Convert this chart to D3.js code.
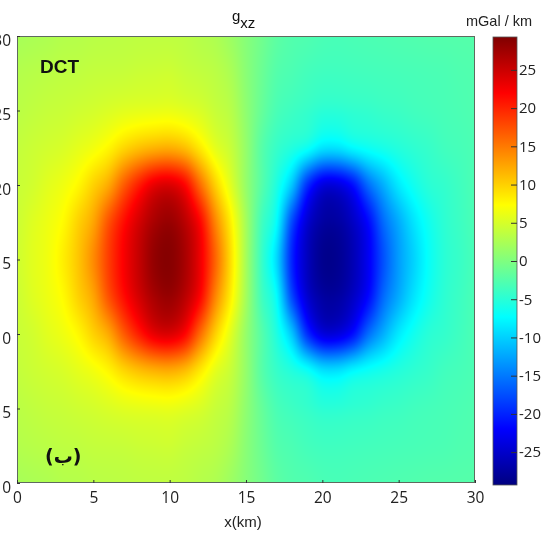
<!DOCTYPE html>
<html>
<head>
<meta charset="utf-8">
<script src="https://cdn.jsdelivr.net/npm/d3@7"></script>
<style>
  body { margin: 0; background: #fff; }
  #chart { position: relative; width: 556px; height: 551px; overflow: hidden; }
  #chart canvas, #chart svg { position: absolute; left: 0; top: 0; }
</style>
</head>
<body>
<div id="chart"></div>
<script>
// grid of g_xz (mGal/km)
const xKm = [0, 1, 2, 3, 4, 5, 6, 7, 8, 9, 10, 11, 12, 13, 14, 15, 16, 17, 18, 19, 20, 21, 22, 23, 24, 25, 26, 27, 28, 29, 30];
const yKm = [0, 2.5, 5, 7.5, 10, 12.5, 15, 17.5, 20, 22.5, 25, 27.5, 30];

// rows named by their distance from the centre line y = 15 km
const rowD15  = [2.3, 2.5, 2.7, 3.0, 3.1, 3.3, 3.4, 3.5, 3.6, 3.65, 3.65, 3.5, 3.1, 2.7, 1.7, 0.4, -0.8, -2.0, -2.6, -2.8, -3.1, -3.2, -3.1, -3.0, -2.9, -2.8, -2.7, -2.6, -2.55, -2.5, -2.45];
const rowD125 = [3.0, 3.2, 3.4, 3.6, 3.7, 3.9, 4.0, 4.1, 4.3, 4.4, 4.5, 4.1, 3.8, 3.4, 2.5, 0.6, -1.1, -2.5, -3.0, -3.45, -3.7, -3.7, -3.6, -3.5, -3.4, -3.3, -3.2, -3.1, -3.0, -2.8, -2.7];
const rowD10  = [3.4, 3.7, 4.0, 4.2, 4.5, 4.8, 5.2, 5.6, 5.85, 6.0, 6.1, 5.7, 5.1, 4.1, 3.2, 0.9, -1.4, -3.1, -3.8, -4.3, -4.9, -4.9, -4.6, -4.4, -4.1, -3.9, -3.6, -3.4, -3.2, -3.0, -2.8];
const rowD75  = [3.9, 4.3, 4.7, 5.1, 5.8, 6.6, 7.8, 9.6, 10.9, 11.7, 12.0, 11.0, 8.5, 5.8, 4.1, 1.2, -2.2, -4.2, -5.4, -6.7, -8.8, -8.9, -7.6, -6.7, -6.0, -5.3, -4.7, -4.2, -3.6, -3.3, -3.0];
const rowD5   = [4.2, 4.7, 5.6, 6.4, 7.7, 9.9, 12.3, 16.7, 20.4, 23.3, 24.0, 21.8, 15.8, 10.0, 5.6, 1.3, -2.3, -5.6, -10.6, -19.2, -23.7, -23.8, -21.2, -15.8, -11.9, -8.5, -6.4, -5.0, -4.4, -3.7, -3.0];
const rowD25  = [4.4, 5.4, 6.3, 7.5, 9.9, 12.5, 17.3, 21.3, 24.5, 27.0, 27.9, 26.0, 21.8, 14.3, 8.2, 2.1, -3.4, -7.3, -17.7, -24.5, -27.3, -27.4, -25.4, -21.7, -15.9, -12.1, -8.8, -6.4, -4.8, -3.9, -3.1];
const rowD0   = [4.6, 5.6, 6.5, 8.2, 10.6, 14.0, 18.5, 22.3, 25.4, 28.2, 28.9, 27.0, 22.9, 16.2, 9.2, 2.2, -3.9, -9.4, -19.9, -25.6, -28.4, -28.3, -26.3, -22.7, -17.4, -13.0, -9.8, -6.9, -5.0, -4.1, -3.2];

// one row per yKm entry, bottom to top
const gz = [rowD15, rowD125, rowD10, rowD75, rowD5, rowD25, rowD0, rowD25, rowD5, rowD75, rowD10, rowD125, rowD15];

const axisTicks = [0, 5, 10, 15, 20, 25, 30];
const barTicks = [-25, -20, -15, -10, -5, 0, 5, 10, 15, 20, 25];
const vMin = -29.3, vMax = 29.3;

// matlab jet
const jetStops = [0, 0.125, 0.375, 0.625, 0.875, 1];
const jetColors = ["#000080", "#0000ff", "#00ffff", "#ffff00", "#ff0000", "#800000"];

const width = 556, height = 551;
const plot = { left: 17, top: 36, right: 475, bottom: 483 };
const bar = { left: 493, right: 517, top: 37, bottom: 485 };

const x = d3.scaleLinear().domain([0, 30]).range([plot.left, plot.right]);
const y = d3.scaleLinear().domain([0, 30]).range([plot.bottom, plot.top]);
const cb = d3.scaleLinear().domain([vMin, vMax]).range([bar.bottom, bar.top]);

const color = d3.scaleLinear()
    .domain(jetStops.map(t => vMin + t * (vMax - vMin)))
    .range(jetColors)
    .clamp(true);

const col = d3.scaleLinear().domain(d3.extent(xKm)).range([0, xKm.length - 1]);
const row = d3.scaleLinear().domain(d3.extent(yKm)).range([0, yKm.length - 1]);

function cr(p0, p1, p2, p3, t) {
    return p1 + 0.5 * t * (p2 - p0 + t * (2 * p0 - 5 * p1 + 4 * p2 - p3 + t * (3 * (p1 - p2) + p3 - p0)));
}

function sample(gx, gy) {
    const nx = xKm.length, ny = yKm.length;
    const i = Math.min(nx - 2, Math.floor(gx)), j = Math.min(ny - 2, Math.floor(gy));
    const fx = gx - i, fy = gy - j;
    const cx = k => Math.max(0, Math.min(nx - 1, k));
    const cy = k => Math.max(0, Math.min(ny - 1, k));
    const r = [];
    for (let m = -1; m <= 2; m++) {
        const g = gz[cy(j + m)];
        r.push(cr(g[cx(i - 1)], g[cx(i)], g[cx(i + 1)], g[cx(i + 2)], fx));
    }
    return cr(r[0], r[1], r[2], r[3], fy);
}

// field image
const pw = plot.right - plot.left, ph = plot.bottom - plot.top;
const canvas = d3.select('#chart').append('canvas')
    .attr('width', pw).attr('height', ph)
    .style('left', plot.left + 'px').style('top', plot.top + 'px');
const ctx = canvas.node().getContext('2d');
const img = ctx.createImageData(pw, ph);
for (let py = 0; py < ph; py++) {
    const gy = row(y.invert(plot.top + py + 0.5));
    for (let px = 0; px < pw; px++) {
        const gx = col(x.invert(plot.left + px + 0.5));
        const c = d3.rgb(color(sample(gx, gy)));
        const o = (py * pw + px) * 4;
        img.data[o] = c.r; img.data[o + 1] = c.g; img.data[o + 2] = c.b; img.data[o + 3] = 255;
    }
}
ctx.putImageData(img, 0, 0);

const svg = d3.select('#chart').append('svg').attr('width', width).attr('height', height);

svg.append('rect')
    .attr('x', plot.left + 0.5).attr('y', plot.top + 0.5)
    .attr('width', pw - 1).attr('height', ph - 1)
    .attr('fill', 'none').attr('stroke', '#5f6a5f');

const tickFont = '"Open Sans", sans-serif';

const xAxis = svg.append('g')
    .attr('transform', `translate(0,${plot.bottom})`)
    .call(d3.axisBottom(x).tickValues(axisTicks).tickSizeInner(-3).tickSizeOuter(0).tickPadding(9));
const yAxis = svg.append('g')
    .attr('transform', `translate(${plot.left},0)`)
    .call(d3.axisLeft(y).tickValues(axisTicks).tickSizeInner(-3).tickSizeOuter(0).tickPadding(6));
[xAxis, yAxis].forEach(a => {
    a.select('.domain').remove();
    a.selectAll('line').attr('stroke', '#333');
    a.selectAll('text').attr('fill', '#222').style('font-family', tickFont).style('font-size', '15.5px');
});
yAxis.selectAll('text').attr('dy', '0.6em');

// title g_xz
const title = svg.append('text')
    .attr('x', 232).attr('y', 20.5)
    .attr('fill', '#111')
    .style('font-family', '"Liberation Sans", Arial, sans-serif')
    .style('font-size', '15px');
title.append('tspan').text('g');
title.append('tspan').attr('dy', 7.5).text('xz');

svg.append('text')
    .attr('x', 243).attr('y', 527)
    .attr('text-anchor', 'middle')
    .attr('fill', '#222')
    .style('font-family', '"Liberation Sans", Arial, sans-serif')
    .style('font-size', '15px')
    .text('x(km)');

svg.append('text')
    .attr('x', 40).attr('y', 73)
    .attr('fill', '#111')
    .style('font-family', '"Liberation Sans", Arial, sans-serif')
    .style('font-weight', 'bold')
    .style('font-size', '19px')
    .text('DCT');

svg.append('text')
    .attr('x', 45).attr('y', 463)
    .attr('fill', '#111')
    .style('font-family', '"DejaVu Sans", sans-serif')
    .style('font-weight', 'bold')
    .style('font-size', '19px')
    .text('(ب)');

// colour bar
const grad = svg.append('defs').append('linearGradient')
    .attr('id', 'jet').attr('x1', 0).attr('y1', 1).attr('x2', 0).attr('y2', 0);
grad.selectAll('stop').data(jetStops).enter().append('stop')
    .attr('offset', d => d)
    .attr('stop-color', (d, i) => jetColors[i]);

svg.append('rect')
    .attr('x', bar.left).attr('y', bar.top)
    .attr('width', bar.right - bar.left).attr('height', bar.bottom - bar.top)
    .attr('fill', 'url(#jet)')
    .attr('stroke', '#555').attr('stroke-width', 0.8);

const barAxis = svg.append('g')
    .attr('transform', `translate(${bar.right},0)`)
    .call(d3.axisRight(cb).tickValues(barTicks).tickFormat(d => String(d)).tickSizeInner(-6).tickSizeOuter(0).tickPadding(2));
barAxis.select('.domain').remove();
barAxis.selectAll('line').attr('stroke', '#333');
barAxis.selectAll('text').attr('fill', '#222').style('font-family', tickFont).style('font-size', '15px');

svg.append('text')
    .attr('x', 499).attr('y', 26)
    .attr('text-anchor', 'middle')
    .attr('fill', '#222')
    .style('font-family', '"Liberation Sans", Arial, sans-serif')
    .style('font-size', '14.5px')
    .text('mGal / km');
</script>
</body>
</html>
